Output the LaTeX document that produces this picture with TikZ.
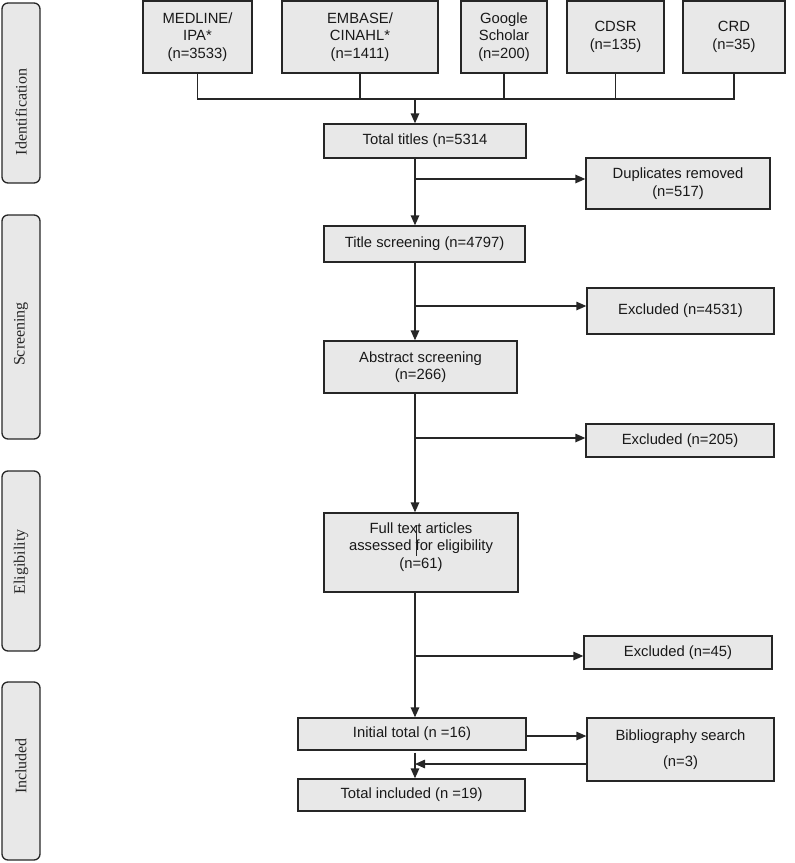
\documentclass[tikz,border=0pt]{standalone}
\usepackage{fontspec}
\setmainfont{Liberation Sans}
\newfontfamily\sidefont{Liberation Serif}
\usetikzlibrary{arrows.meta,calc}
\definecolor{boxfill}{HTML}{E8E8E8}
\definecolor{boxline}{HTML}{262626}
\tikzset{
  fbox/.style={draw=boxline, fill=boxfill, line width=1.3pt, inner sep=0pt, align=center,
    font=\fontsize{14.8}{17.5}\selectfont, text=black!90},
  sidebar/.style={draw=boxline, fill=boxfill, line width=1.3pt, rounded corners=6pt},
  sidelabel/.style={font=\sidefont\fontsize{16}{18}\selectfont, rotate=90, text=black!85},
  conn/.style={line width=1.3pt, draw=boxline},
  arr/.style={conn, -{Triangle[length=10pt,width=8.5pt]}},
}
\begin{document}
\begin{tikzpicture}[x=1pt,y=-1pt]
\useasboundingbox (0,0) rectangle (795,863);
% side bars
\draw[sidebar] (2,3) rectangle (40,183);
\node[sidelabel] (lid) at (21,112) {Identification};
\draw[sidebar] (2,215) rectangle (40,439);
\node[sidelabel] (lsc) at (21,334) {Screening};
\draw[sidebar] (2,471) rectangle (40,651);
\node[sidelabel] (lel) at (21,562) {Eligibility};
\draw[sidebar] (2,682) rectangle (40,860);
\node[sidelabel] (lin) at (21,766) {Included};
% top sources
\node[fbox, minimum width=109pt, minimum height=72pt] (med) at (197.5,37) {MEDLINE/\\IPA*\\(n=3533)};
\node[fbox, minimum width=156pt, minimum height=72pt] (emb) at (360,37) {EMBASE/\\CINAHL*\\(n=1411)};
\node[fbox, minimum width=86pt, minimum height=72pt] (goo) at (504,37) {Google\\Scholar\\(n=200)};
\node[fbox, minimum width=97pt, minimum height=72pt] (cds) at (615.5,37) {CDSR\\(n=135)};
\node[fbox, minimum width=102pt, minimum height=72pt] (crd) at (734,37) {CRD\\(n=35)};
% flow boxes
\node[fbox, minimum width=202pt, minimum height=34pt] (tot) at (425,141) {Total titles (n=5314};
\node[fbox, minimum width=184pt, minimum height=51pt] (dup) at (678,183.5) {Duplicates removed\\(n=517)};
\node[fbox, minimum width=201pt, minimum height=36pt] (ts) at (424.5,244) {Title screening (n=4797)};
\node[fbox, minimum width=187pt, minimum height=46pt] (ex1) at (680.5,311) {Excluded (n=4531)};
\node[fbox, minimum width=193pt, minimum height=52pt] (abs) at (420.5,367) {Abstract screening\\(n=266)};
\node[fbox, minimum width=188pt, minimum height=33pt] (ex2) at (680,440.5) {Excluded (n=205)};
\node[fbox, minimum width=194pt, minimum height=79pt, text depth=14pt] (ft) at (421,552.5) {Full text articles\\assessed for eligibility\\(n=61)};
\node[fbox, minimum width=188pt, minimum height=33pt] (ex3) at (678,652.5) {Excluded (n=45)};
\node[fbox, minimum width=228pt, minimum height=32pt] (it) at (412,734) {Initial total (n =16)};
\node[fbox, minimum width=187pt, minimum height=63pt] (bib) at (680.5,749.5) {Bibliography search\\[8pt](n=3)};
\node[fbox, minimum width=227pt, minimum height=32pt] (ti) at (411.5,795) {Total included (n =19)};
% junction coordinates
\coordinate (j0) at (415,99);
\coordinate (b1) at (415,179);
\coordinate (b2) at (415,306);
\coordinate (b3) at (415,438);
\coordinate (b4) at (415,656);
\coordinate (b5) at (415,736);
\coordinate (b6) at (415,764);
\coordinate (s1) at (416,525);
\coordinate (s2) at (416,556);
% connectors
\draw[conn] (med.south) |- (j0) -| (crd.south);
\draw[conn] (emb.south) -- (emb.south |- j0);
\draw[conn] (goo.south) -- (goo.south |- j0);
\draw[conn] (cds.south) -- (cds.south |- j0);
\draw[arr] (j0) -- (j0 |- tot.north);
\draw[arr] (tot.south -| j0) -- (ts.north -| j0);
\draw[arr] (b1) -- (b1 -| dup.west);
\draw[arr] (ts.south -| j0) -- (abs.north -| j0);
\draw[arr] (b2) -- (b2 -| ex1.west);
\draw[arr] (abs.south -| j0) -- (ft.north -| j0);
\draw[arr] (b3) -- (b3 -| ex2.west);
\draw[arr] (ft.south -| j0) -- (it.north -| j0);
\draw[arr] (b4) -- (b4 -| ex3.west);
\draw[arr] (b5 -| it.east) -- (b5 -| bib.west);
\draw[arr] (b6 -| bib.west) -- (b6);
\draw[arr] ($(it.south -| j0)+(0,2)$) -- (ti.north -| j0);
\draw[line width=0.9pt, draw=boxline] (s1) -- (s2);
\end{tikzpicture}
\end{document}
